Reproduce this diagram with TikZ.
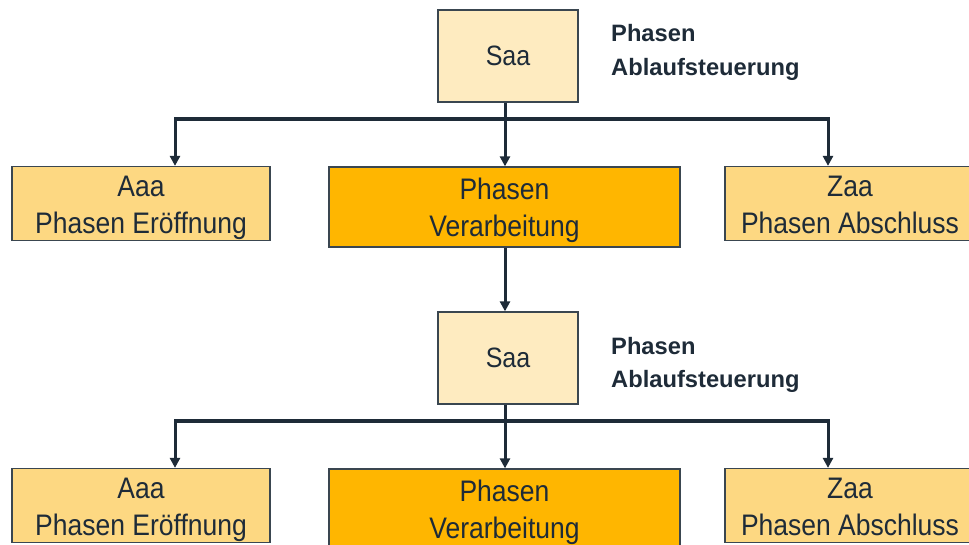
\documentclass[tikz,border=0pt]{standalone}
\usepackage{fontspec}
\setmainfont{Liberation Sans}
\usetikzlibrary{arrows.meta}
\definecolor{ink}{HTML}{1E2B38}
\definecolor{edgec}{HTML}{3A4650}
\definecolor{palefill}{HTML}{FEEBC0}
\definecolor{lightfill}{HTML}{FDD882}
\definecolor{strongfill}{HTML}{FFB600}
\newcommand{\twolines}[2]{\raisebox{-4pt}[\height][\depth]{\scalebox{1}[1.12]{\begin{tabular}{@{}c@{}}#1\\#2\end{tabular}}}}
\newcommand{\oneline}[1]{\scalebox{1}[1.12]{#1}}
\newcommand{\sidelabel}{\begin{tabular}[t]{@{}l@{}}Phasen\\Ablaufsteuerung\end{tabular}}
\begin{document}
\begin{tikzpicture}[x=1pt,y=-1pt,
  box/.style={draw=edgec, line width=1.3pt, inner sep=0pt, text=ink,
    font=\fontsize{26.5}{33}\selectfont},
  ctrlbox/.style={box, fill=palefill, minimum width=140pt, minimum height=92pt,
    font=\fontsize{25}{30}\selectfont},
  sidebox/.style={box, fill=lightfill, minimum height=73pt},
  mainbox/.style={box, fill=strongfill, minimum width=351pt, minimum height=80pt},
  sidetext/.style={anchor=base west, inner sep=0pt, text=ink,
    font=\bfseries\fontsize{23.7}{33.5}\selectfont},
  conn/.style={draw=ink, line width=3pt, -{Triangle[width=10pt,length=10pt]}},
  bus/.style={draw=ink, line width=3.6pt},
  stem/.style={draw=ink, line width=3pt}
]
\useasboundingbox (0,0) rectangle (969,545);
\clip (0,0) rectangle (969,545);

% ---------- upper level ----------
\node[ctrlbox] (S1) at (508,56) {\oneline{Saa}};
\node[sidetext] (L1) at (611,42) {\sidelabel};
\node[sidebox, minimum width=258pt] (A1) at (141,203.5) {\twolines{Aaa}{Phasen Eröffnung}};
\node[mainbox] (P1) at (504.5,207) {\twolines{Phasen}{Verarbeitung}};
\node[sidebox, minimum width=250pt] (Z1) at (850,203.5) {\twolines{Zaa}{Phasen Abschluss}};

\coordinate (b1) at (505,119);
\coordinate (bl1) at (175,119);
\coordinate (br1) at (828,119);
\draw[bus] (bl1) -- (br1);
\draw[stem] (bl1) -- ++(0,-1.8);
\draw[stem] (br1) -- ++(0,-1.8);
\draw[conn] (S1.south -| b1) -- (P1.north -| b1);
\draw[conn] (bl1) -- (A1.north -| bl1);
\draw[conn] (br1) -- (Z1.north -| br1);

% ---------- lower level ----------
\node[ctrlbox] (S2) at (508,358) {\oneline{Saa}};
\node[sidetext] (L2) at (611,354) {\sidelabel};
\node[sidebox, minimum width=258pt] (A2) at (141,505.5) {\twolines{Aaa}{Phasen Eröffnung}};
\node[mainbox] (P2) at (504.5,509) {\twolines{Phasen}{Verarbeitung}};
\node[sidebox, minimum width=250pt] (Z2) at (850,505.5) {\twolines{Zaa}{Phasen Abschluss}};

\draw[conn] (P1.south -| b1) -- (S2.north -| b1);

\coordinate (b2) at (505,421);
\coordinate (bl2) at (175,421);
\coordinate (br2) at (828,421);
\draw[bus] (bl2) -- (br2);
\draw[stem] (bl2) -- ++(0,-1.8);
\draw[stem] (br2) -- ++(0,-1.8);
\draw[conn] (S2.south -| b2) -- (P2.north -| b2);
\draw[conn] (bl2) -- (A2.north -| bl2);
\draw[conn] (br2) -- (Z2.north -| br2);
\end{tikzpicture}
\end{document}
